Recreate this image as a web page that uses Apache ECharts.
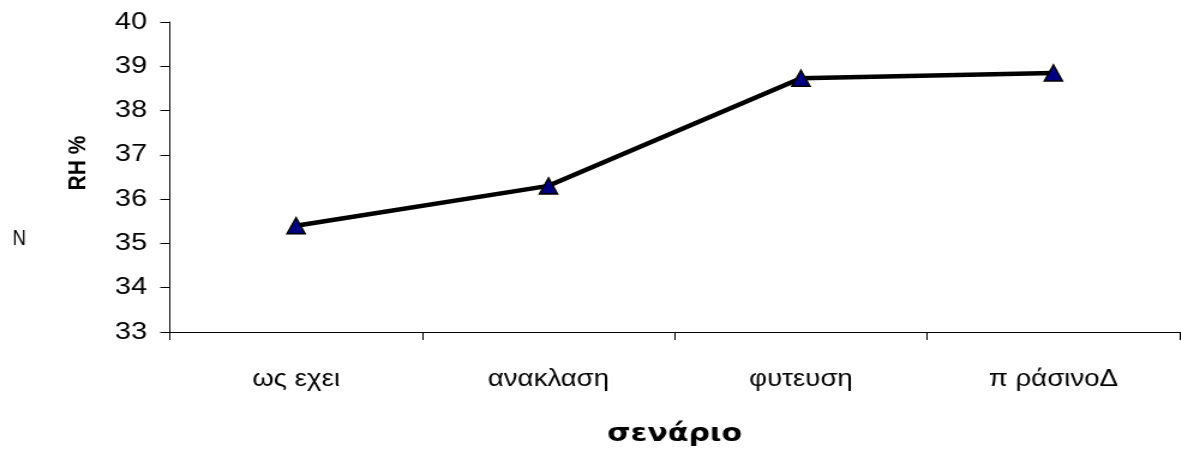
<!DOCTYPE html>
<html>
<head>
<meta charset="utf-8">
<script src="https://cdn.jsdelivr.net/npm/echarts@6/dist/echarts.min.js"></script>
<style>
  html, body { margin: 0; padding: 0; background: #fff; overflow: hidden; }
  /* the chart is drawn a little narrower and widened, giving the broad lettering */
  #chart { width: 984px; height: 452px; transform: scaleX(1.2); transform-origin: 0 0; }
</style>
</head>
<body>
<div id="chart"></div>
<script>
// Relative humidity per scenario
const categories = ['ως εχει', 'ανακλαση', 'φυτευση', 'π ράσινοΔ'];
const rhValues = [35.4, 36.3, 38.73, 38.85];
const yTicks = { min: 33, max: 40, interval: 1 };

const font = '"Liberation Sans", Arial, sans-serif';

const chart = echarts.init(document.getElementById('chart'));
chart.setOption({
  animation: false,
  backgroundColor: '#ffffff',
  grid: { left: 141.5, right: 1, top: 22, bottom: 119, containLabel: false },
  xAxis: {
    type: 'category',
    data: categories,
    boundaryGap: true,
    name: 'σενάριο',
    nameLocation: 'middle',
    nameGap: 90,
    nameTextStyle: { fontFamily: '"DejaVu Sans", ' + font, fontSize: 25, fontWeight: 'bold', color: '#000' },
    axisLine: { lineStyle: { color: '#000', width: 1 } },
    axisTick: { show: true, length: 8, alignWithLabel: false, lineStyle: { color: '#000' } },
    axisLabel: { fontFamily: font, fontSize: 23, color: '#000', margin: 36 },
    splitLine: { show: false }
  },
  yAxis: {
    type: 'value',
    min: yTicks.min,
    max: yTicks.max,
    interval: yTicks.interval,
    axisLine: { show: true, lineStyle: { color: '#000', width: 1 } },
    axisTick: { show: true, length: 8, lineStyle: { color: '#000' } },
    axisLabel: { fontFamily: font, fontSize: 24, color: '#000', margin: 19 },
    splitLine: { show: false }
  },
  graphic: [
    {
      type: 'text',
      x: 65.4, y: 163,
      rotation: Math.PI / 2,
      style: {
        text: 'RH %', fontFamily: font, fontSize: 21, fontWeight: 'bold', fill: '#000',
        textAlign: 'center', textVerticalAlign: 'middle'
      }
    },
    {
      type: 'text',
      x: 10.6, y: 238.5,
      scaleX: 0.7,
      style: {
        text: 'N', fontFamily: font, fontSize: 22, fill: '#000',
        textAlign: 'left', textVerticalAlign: 'middle'
      }
    }
  ],
  series: [{
    type: 'line',
    data: rhValues,
    symbol: 'triangle',
    symbolSize: [15, 16],
    lineStyle: { color: '#000', width: 4.5 },
    itemStyle: { color: '#000080', borderColor: '#000', borderWidth: 1.5 },
    z: 3
  }]
});
</script>
</body>
</html>
